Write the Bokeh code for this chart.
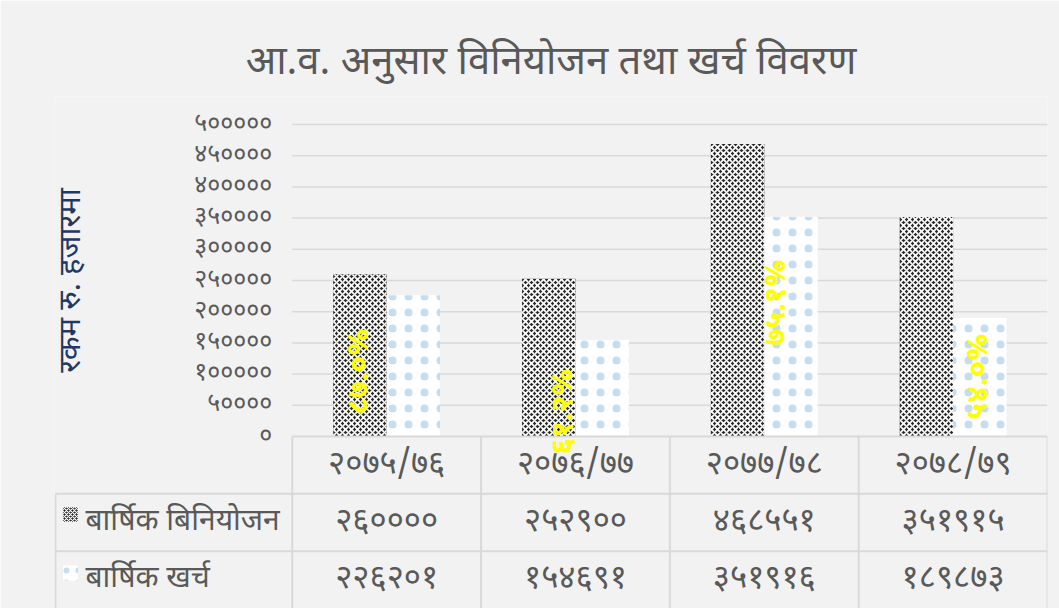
import numpy as np
from bokeh.plotting import figure
from bokeh.models import ColumnDataSource, Range1d, FixedTicker
from bokeh.transform import dodge
from bokeh.embed import file_html
from bokeh.resources import INLINE
from bokeh.core.properties import value

# ---------------- data ----------------
years = ["२०७५/७६", "२०७६/७७", "२०७७/७८", "२०७८/७९"]
series_names = ["बार्षिक बिनियोजन", "बार्षिक खर्च"]
allocation = [260000, 252900, 468551, 351915]
expenditure = [226201, 154691, 351916, 189873]
y_ticks = [0, 50000, 100000, 150000, 200000, 250000, 300000, 350000, 400000, 450000, 500000]
y_tick_labels = ["०", "५००००", "१०००००", "१५००००", "२०००००", "२५००००",
                 "३०००००", "३५००००", "४०००००", "४५००००", "५०००००"]
title_text = "आ.व. अनुसार विनियोजन तथा खर्च विवरण"
y_title = "रकम रु. हजारमा"

# placement of the (manually moved) percentage labels
pct_label_dx = [-0.14, -0.056, 0.071, 0.14]
pct_label_y = [104000, 40000, 214700, 96000]

DEV = str.maketrans("0123456789", "०१२३४५६७८९")
def dev(s):
    return str(s).translate(DEV)

FONT = "Noto Sans Devanagari, Noto Sans, sans-serif"
GRAY = "#595959"
BG = "#f2f2f2"
LINE = "#d9d9d9"

n = len(years)
xc = [i + 0.5 for i in range(n)]
pct = [dev(f"{e / a * 100:.1f}%") for a, e in zip(allocation, expenditure)]

# ---------------- layout geometry (pixels) ----------------
W, H = 1059, 608
FR_L, FR_R, FR_T = 54, 1047, 96       # frame left/right/top
TOP_Y = 124                           # pixel of value 500000
ZERO_Y = 436                          # pixel of value 0 / top of table
CAT_PX = 189.0                        # width of one category column
ROW_PX = (H - ZERO_Y) / 3.0           # table row height
xl = -(292 - FR_L) / CAT_PX           # left edge of table label column (data x)
vmax = y_ticks[-1]
per_px = vmax / (ZERO_Y - TOP_Y)
ymax = vmax + (TOP_Y - FR_T) * per_px
ymin = -(H - ZERO_Y) * per_px
tbl_top = 3 + (ZERO_Y - FR_T) / ROW_PX

p = figure(width=W, height=H, x_range=Range1d(xl, n), y_range=Range1d(ymin, ymax),
           output_backend="svg", toolbar_location=None, x_axis_location=None,
           min_border_left=FR_L, min_border_right=W - FR_R, min_border_top=FR_T,
           min_border_bottom=0)
p.extra_y_ranges = {"tbl": Range1d(0, tbl_top)}
p.background_fill_color = BG
p.border_fill_color = BG
p.outline_line_color = None
p.grid.visible = False

# title
p.title.text = title_text
p.title.align = "center"
p.title.text_font = FONT
p.title.text_font_size = "40px"
p.title.text_font_style = "normal"
p.title.text_color = GRAY
p.title.standoff = 14

# y axis placed at the start of the plotting area
ax = p.yaxis[0]
ax.fixed_location = 0
ax.bounds = (y_ticks[0], y_ticks[-1])
ax.ticker = FixedTicker(ticks=y_ticks)
ax.major_label_overrides = {t: l for t, l in zip(y_ticks, y_tick_labels)}
ax.axis_line_color = None
ax.major_tick_line_color = None
ax.minor_tick_line_color = None
ax.major_label_standoff = 14
ax.major_label_text_font_size = "25px"
ax.major_label_text_color = GRAY
ax.major_label_text_font = FONT
ax.axis_label = y_title
ax.axis_label_text_font = FONT
ax.axis_label_text_font_size = "31px"
ax.axis_label_text_font_style = "normal"
ax.axis_label_text_color = "#1f3864"
ax.axis_label_standoff = 98

# horizontal gridlines over the plotting columns only
gl = y_ticks[1:]
p.segment(x0=[0] * len(gl), y0=gl, x1=[n] * len(gl), y1=gl, line_color=LINE, line_width=1.5)

src = ColumnDataSource(dict(x=xc, alloc=allocation, exp=expenditure))
p.vbar(x=dodge("x", -0.1415, range=p.x_range), top="alloc", width=0.283, source=src,
       fill_color="#2b2b2b", line_color=None, hatch_pattern="diagonal_cross",
       hatch_color="white", hatch_scale=6, hatch_weight=1.7)
p.vbar(x=dodge("x", 0.1415, range=p.x_range), top="exp", width=0.283, source=src,
       fill_color="white", line_color=None, hatch_pattern="dot",
       hatch_color="#c8dcf0", hatch_scale=16, hatch_weight=1)

lab_src = ColumnDataSource(dict(x=[c + d for c, d in zip(xc, pct_label_dx)], y=pct_label_y, t=pct))
p.text(x="x", y="y", text="t", source=lab_src, angle=np.pi / 2, text_align="center",
       text_baseline="middle", text_color="#ffff00", text_font_size="30px",
       text_font_style="bold", text_font=value(FONT))

# ---------------- data table ----------------
xe = xl + 0.005
hx0 = [0, xe, xe]
hx1 = [n, n, n]
hy = [3, 2, 1]
p.segment(x0=hx0, y0=hy, x1=hx1, y1=hy, line_color=LINE, line_width=2, y_range_name="tbl")
vx = list(range(n + 1)) + [xe]
vy1 = [3] * (n + 1) + [2]
p.segment(x0=vx, y0=[0] * len(vx), x1=vx, y1=vy1, line_color=LINE, line_width=2,
          y_range_name="tbl")

tsrc = ColumnDataSource(dict(x=xc, yr=years, a=[dev(v) for v in allocation],
                             e=[dev(v) for v in expenditure],
                             y0=[2.5] * n, y1=[1.5] * n, y2=[0.5] * n))
for col, ycol in (("yr", "y0"), ("a", "y1"), ("e", "y2")):
    p.text(x="x", y=ycol, text=col, source=tsrc, text_align="center",
           text_baseline="middle", text_color=GRAY, text_font_size="33px",
           text_font=value(FONT), y_range_name="tbl")

name_x = -(292 - 85) / CAT_PX
key_x = -(292 - 70) / CAT_PX
p.text(x=[name_x, name_x], y=[1.5, 0.5], text=series_names, text_align="left",
       text_baseline="middle", text_color=GRAY, text_font_size="30px",
       text_font=value(FONT), y_range_name="tbl")
p.rect(x=[key_x], y=[1.64], width=15, height=15, width_units="screen", height_units="screen",
       fill_color="#2b2b2b", line_color=None, hatch_pattern="diagonal_cross",
       hatch_color="white", hatch_scale=4, hatch_weight=1.1, y_range_name="tbl")
p.rect(x=[key_x], y=[0.62], width=15, height=15, width_units="screen", height_units="screen",
       fill_color="white", line_color=None, hatch_pattern="dot",
       hatch_color="#c8dcf0", hatch_scale=12, hatch_weight=1, y_range_name="tbl")

open("out.html", "w").write(file_html(p, INLINE))
